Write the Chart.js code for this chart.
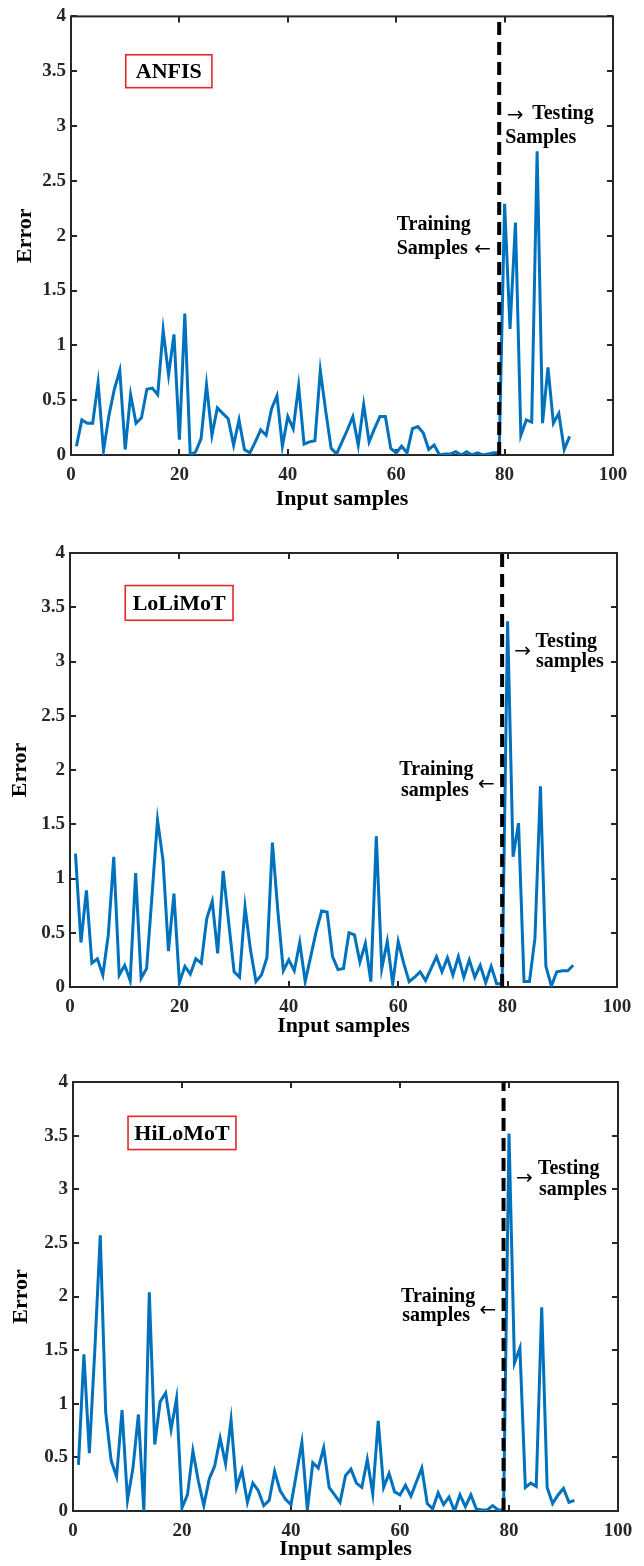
<!DOCTYPE html>
<html><head><meta charset="utf-8">
<script src="https://cdn.jsdelivr.net/npm/chart.js@4.4.1/dist/chart.umd.min.js"></script>
<style>
html,body{margin:0;padding:0;background:#fff;}
body{width:644px;height:1566px;position:relative;overflow:hidden;}
.panel{position:absolute;left:0;width:644px;}
</style></head><body>
<div class="panel" style="top:0;height:520px"><canvas id="c1"></canvas></div>
<div class="panel" style="top:520px;height:525px"><canvas id="c2"></canvas></div>
<div class="panel" style="top:1045px;height:521px"><canvas id="c3"></canvas></div>
<script>
// ---------- data ----------
const samples = [1,2,3,4,5,6,7,8,9,10,11,12,13,14,15,16,17,18,19,20,21,22,23,24,25,26,27,28,29,30,
  31,32,33,34,35,36,37,38,39,40,41,42,43,44,45,46,47,48,49,50,51,52,53,54,55,56,57,58,59,60,
  61,62,63,64,65,66,67,68,69,70,71,72,73,74,75,76,77,78,79,80,81,82,83,84,85,86,87,88,89,90,91,92];

const anfisError = [0.08,0.32,0.29,0.29,0.66,0.04,0.36,0.60,0.77,0.05,
  0.55,0.29,0.34,0.60,0.61,0.55,1.14,0.73,1.10,0.14,
  1.29,0.00,0.03,0.15,0.64,0.18,0.43,0.38,0.33,0.09,
  0.32,0.05,0.02,0.12,0.23,0.18,0.42,0.54,0.08,0.35,
  0.24,0.63,0.10,0.12,0.13,0.77,0.40,0.06,0.01,0.12,
  0.23,0.35,0.09,0.46,0.12,0.24,0.35,0.35,0.06,0.02,
  0.08,0.02,0.24,0.26,0.20,0.05,0.09,0.00,0.01,0.01,
  0.03,0.00,0.03,0.00,0.02,0.00,0.01,0.02,0.02,2.29,
  1.15,2.12,0.18,0.32,0.30,2.77,0.29,0.80,0.29,0.38,
  0.05,0.17];

const lolimotError = [1.23,0.41,0.89,0.22,0.26,0.11,0.48,1.20,0.11,0.20,
  0.06,1.05,0.08,0.17,0.85,1.54,1.17,0.33,0.86,0.04,
  0.19,0.12,0.26,0.22,0.63,0.79,0.31,1.07,0.60,0.14,
  0.09,0.74,0.34,0.05,0.11,0.27,1.33,0.70,0.15,0.25,
  0.15,0.41,0.05,0.28,0.51,0.70,0.69,0.28,0.16,0.17,
  0.50,0.48,0.23,0.40,0.05,1.39,0.17,0.42,0.03,0.42,
  0.22,0.05,0.09,0.14,0.06,0.17,0.28,0.14,0.27,0.11,
  0.28,0.09,0.25,0.09,0.20,0.04,0.19,0.03,0.03,3.37,
  1.20,1.51,0.05,0.05,0.45,1.85,0.19,0.01,0.14,0.15,
  0.15,0.20];

const hilomotError = [0.43,1.46,0.54,1.50,2.57,0.92,0.47,0.32,0.94,0.10,
  0.40,0.90,0.00,2.04,0.62,1.02,1.10,0.76,1.05,0.03,
  0.15,0.56,0.28,0.05,0.30,0.42,0.68,0.44,0.85,0.22,
  0.38,0.08,0.26,0.19,0.05,0.10,0.37,0.19,0.11,0.06,
  0.35,0.64,0.01,0.45,0.40,0.59,0.22,0.15,0.08,0.33,
  0.39,0.26,0.22,0.48,0.16,0.84,0.22,0.35,0.18,0.15,
  0.24,0.14,0.27,0.40,0.07,0.02,0.17,0.06,0.13,0.00,
  0.15,0.04,0.15,0.02,0.01,0.01,0.05,0.01,0.01,3.52,
  1.38,1.52,0.22,0.26,0.23,1.90,0.22,0.07,0.15,0.21,
  0.08,0.10];

const xTicks = [0,20,40,60,80,100];
const yTicks = [0,0.5,1,1.5,2,2.5,3,3.5,4];
const yTickLabels = ['0','0.5','1','1.5','2','2.5','3','3.5','4'];
const splitSample = [79,79];
const splitRange = [0,4];
const modelNames = ['ANFIS','LoLiMoT','HiLoMoT'];

// ---------- styling / layout ----------
const SERIF = '"Liberation Serif","Times New Roman",serif';
const ARROWFONT = '"DejaVu Sans",sans-serif';
const INK = '#262626';

const framePlugin = {
  id:'frame',
  beforeDatasetsDraw(chart){
    const {ctx, chartArea:a, scales:{x,y}} = chart;
    ctx.save();
    ctx.strokeStyle = INK; ctx.lineWidth = 2;
    ctx.strokeRect(a.left, a.top, a.right-a.left, a.bottom-a.top);
    const L = 6;
    ctx.beginPath();
    x.ticks.forEach(t=>{
      const px = Math.round(x.getPixelForValue(t.value));
      ctx.moveTo(px, a.bottom); ctx.lineTo(px, a.bottom-L);
      ctx.moveTo(px, a.top); ctx.lineTo(px, a.top+L);
    });
    y.ticks.forEach(t=>{
      const py = Math.round(y.getPixelForValue(t.value));
      ctx.moveTo(a.left, py); ctx.lineTo(a.left+L, py);
      ctx.moveTo(a.right, py); ctx.lineTo(a.right-L, py);
    });
    ctx.stroke();
    ctx.restore();
  }
};

const notesPlugin = {
  id:'notes',
  afterDraw(chart, args, opts){
    const {ctx, scales:{x,y}} = chart;
    ctx.save();
    const b = opts.box;
    if (b){
      const x1 = x.getPixelForValue(b.x1), x2 = x.getPixelForValue(b.x2);
      const y1 = y.getPixelForValue(b.y2), y2 = y.getPixelForValue(b.y1);
      ctx.strokeStyle = '#E8262B'; ctx.lineWidth = 1.6;
      ctx.strokeRect(x1, y1, x2-x1, y2-y1);
      ctx.fillStyle = '#000';
      ctx.font = 'bold 22px ' + SERIF;
      ctx.textAlign = 'center'; ctx.textBaseline = 'middle';
      ctx.fillText(b.text, (x1+x2)/2, (y1+y2)/2 + 1);
    }
    (opts.texts||[]).forEach(t=>{
      ctx.fillStyle = '#000';
      ctx.font = t.arrow ? ('20px ' + ARROWFONT) : ('bold ' + t.size + 'px ' + SERIF);
      ctx.textAlign = 'left'; ctx.textBaseline = 'middle';
      ctx.fillText(t.text, x.getPixelForValue(t.x), y.getPixelForValue(t.y));
    });
    ctx.restore();
  }
};

function makeChart(cfg){
  const series = cfg.values.map((v,i)=>({x:samples[i], y:v}));
  const split = splitSample.map((s,i)=>({x:s, y:splitRange[i]}));
  return new Chart(document.getElementById(cfg.id), {
    type:'line',
    data:{datasets:[
      {data:split, borderColor:'#000', borderWidth:4, borderDash:[13,7], pointRadius:0, order:0},
      {data:series, borderColor:'#0072BD', borderWidth:3, pointRadius:0, tension:0, borderJoinStyle:'miter', order:1}
    ]},
    options:{
      responsive:true, maintainAspectRatio:false, animation:false, devicePixelRatio:1,
      layout:{padding:{top:cfg.top, right:cfg.right, left:0, bottom:0}},
      plugins:{legend:{display:false}, tooltip:{enabled:false},
        notes:{box:cfg.box, texts:cfg.texts}},
      scales:{
        x:{type:'linear', min:0, max:100,
          afterBuildTicks:s=>{ s.ticks = xTicks.map(v=>({value:v})); },
          afterFit:s=>{ s.height = cfg.xh; },
          grid:{display:false, drawTicks:false}, border:{display:false},
          ticks:{font:{family:SERIF, size:19, weight:'bold'}, color:INK, padding:9, maxRotation:0, autoSkip:false,
            callback:v=>String(v)},
          title:{display:true, text:'Input samples', color:'#000', font:{family:SERIF, size:22, weight:'bold'}, padding:{top:0, bottom:cfg.xtp}}
        },
        y:{type:'linear', min:0, max:4,
          afterBuildTicks:s=>{ s.ticks = yTicks.map(v=>({value:v})); },
          afterFit:s=>{ s.width = cfg.yw; },
          grid:{display:false, drawTicks:false}, border:{display:false},
          ticks:{font:{family:SERIF, size:19, weight:'bold'}, color:INK, padding:5, autoSkip:false,
            callback:(v)=>{ const i = yTicks.indexOf(v); return i >= 0 ? yTickLabels[i] : String(v); }},
          title:{display:true, text:'Error', color:'#000', font:{family:SERIF, size:22, weight:'bold'}, padding:{top:cfg.ytp, bottom:0}}
        }
      }
    },
    plugins:[framePlugin, notesPlugin]
  });
}

makeChart({id:'c1', values:anfisError, top:15, right:31, yw:71, xh:65, xtp:7, ytp:12,
  box:{text:modelNames[0], x1:10.1, x2:26.0, y1:3.35, y2:3.65},
  texts:[
    {text:'Training', x:60.1, y:2.10, size:20},
    {text:'Samples', x:60.1, y:1.88, size:20},
    {text:'\u2190', x:74.4, y:1.87, arrow:true},
    {text:'\u2192', x:80.4, y:3.09, arrow:true},
    {text:'Testing', x:85.1, y:3.11, size:20},
    {text:'Samples', x:80.1, y:2.89, size:20}
  ]});
makeChart({id:'c2', values:lolimotError, top:33, right:27, yw:70, xh:58, xtp:5, ytp:7,
  box:{text:modelNames[1], x1:10.1, x2:29.8, y1:3.38, y2:3.70},
  texts:[
    {text:'Testing', x:85.1, y:3.18, size:20},
    {text:'samples', x:85.2, y:3.00, size:20},
    {text:'\u2192', x:81.2, y:3.09, arrow:true},
    {text:'Training', x:60.2, y:2.00, size:20},
    {text:'samples', x:60.5, y:1.81, size:20},
    {text:'\u2190', x:74.6, y:1.86, arrow:true}
  ]});
makeChart({id:'c3', values:hilomotError, top:37, right:26, yw:73, xh:55, xtp:3, ytp:8,
  box:{text:modelNames[2], x1:10.1, x2:29.9, y1:3.37, y2:3.68},
  texts:[
    {text:'Testing', x:85.3, y:3.19, size:20},
    {text:'samples', x:85.5, y:2.99, size:20},
    {text:'\u2192', x:81.3, y:3.10, arrow:true},
    {text:'Training', x:60.2, y:2.00, size:20},
    {text:'samples', x:60.4, y:1.82, size:20},
    {text:'\u2190', x:74.6, y:1.87, arrow:true}
  ]});
</script>
</body></html>
